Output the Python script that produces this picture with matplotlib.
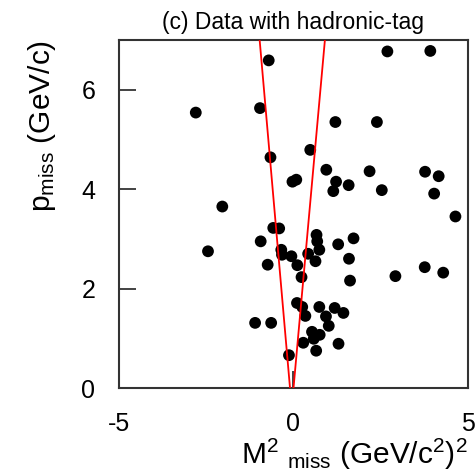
import matplotlib
matplotlib.use("Agg")
import matplotlib.pyplot as plt

plt.rcParams['font.family'] = ['Liberation Sans', 'DejaVu Sans']
plt.rcParams['mathtext.fontset'] = 'custom'
plt.rcParams['mathtext.rm'] = 'Liberation Sans'
plt.rcParams['mathtext.it'] = 'Liberation Sans'

m2_miss = [-0.71, 2.69, 3.92, -2.80, -0.96, 1.20, 2.39, 0.48, -0.66, 0.94,
           2.18, 3.77, 4.16, -0.03, 0.08, 1.22, 1.58, 1.14, 2.53, 4.03,
           -2.04, 4.64, -0.58, -0.41, 0.66, 1.72, -0.94, 0.68, 1.28, 0.74,
           -2.45, -0.35, -0.33, -0.06, 0.42, 0.63, 1.59, -0.74, 0.11, 0.23,
           3.76, 2.92, 4.29, 1.62, 0.10, 0.25, 0.74, 1.18, 1.43, 0.34,
           0.93, -1.10, -0.64, 1.01, 0.53, 0.75, 0.58, 0.28, 1.29, 0.65,
           -0.13]
p_miss = [6.59, 6.77, 6.78, 5.54, 5.63, 5.35, 5.35, 4.79, 4.64, 4.39,
          4.36, 4.35, 4.26, 4.15, 4.19, 4.15, 4.08, 3.96, 3.98, 3.91,
          3.65, 3.45, 3.22, 3.21, 3.08, 3.01, 2.95, 2.95, 2.89, 2.78,
          2.75, 2.78, 2.68, 2.65, 2.70, 2.55, 2.60, 2.48, 2.47, 2.23,
          2.43, 2.25, 2.32, 2.16, 1.71, 1.63, 1.63, 1.61, 1.51, 1.45,
          1.44, 1.31, 1.31, 1.25, 1.13, 1.07, 0.99, 0.91, 0.89, 0.75,
          0.66]

cut_p = [0.0, 7.0]
cut_left = [-0.10, -0.97]
cut_right = [0.0, 0.90]

xticks = [-5, 0, 5]
yticks = [0, 2, 4, 6]

fig = plt.figure(figsize=(4.77, 4.75), dpi=100)
ax = fig.add_axes([119/477, 1 - 388/475, 349/477, 348/475])

ax.scatter(m2_miss, p_miss, s=72, color='black', edgecolors='none', zorder=2)
ax.plot(cut_left, cut_p, color='red', lw=1.3, zorder=3)
ax.plot(cut_right, cut_p, color='red', lw=1.3, zorder=3)

ax.set_xlim(-5, 5)
ax.set_ylim(0, 7)
ax.set_xticks(xticks)
ax.set_yticks(yticks)
ax.set_xticklabels([str(t) for t in xticks])
ax.set_yticklabels([str(t) for t in yticks])
ax.tick_params(direction='in', length=12, width=1.2, labelsize=18, pad=17,
               color='#222222', top=False, right=False)
for sp in ax.spines.values():
    sp.set_linewidth(1.5)
    sp.set_color('#333333')

ax.set_title('(c) Data with hadronic-tag', fontsize=16.5, pad=8)
ax.set_xlabel(r'M$^2$ $_{\rm miss}$ (GeV/c$^2$)$^2$', fontsize=21.5, loc='right',
              labelpad=0.5)
ax.set_ylabel(r'p$_{\rm miss}$ (GeV/c)', fontsize=21.5, loc='top', labelpad=17)

fig.savefig('out.png', dpi=100)
